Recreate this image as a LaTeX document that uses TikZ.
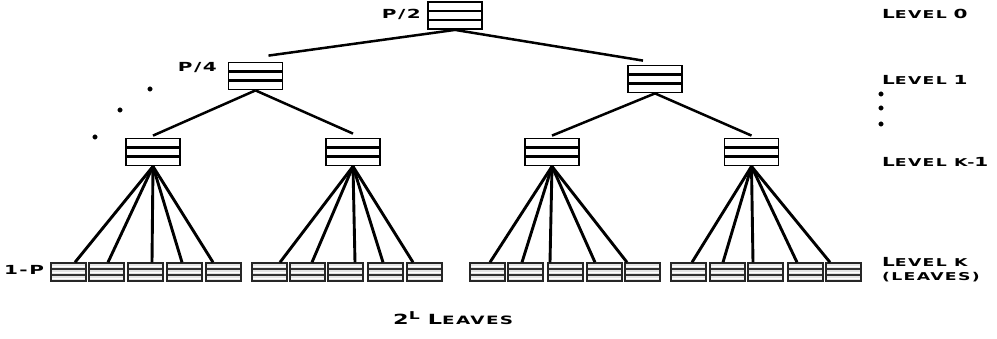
\documentclass[tikz,border=0pt]{standalone}
\usepackage{fontspec}
\newfontfamily\cpfont[FakeStretch=1.6,LetterSpace=12]{DejaVu Sans Bold}
\newcommand\bigc[1]{{\fontsize{12.5}{14}\selectfont #1}}
\newcommand\smc[1]{{\fontsize{10.8}{12}\selectfont #1}}
\tikzset{
  stack/.style={minimum width=54pt, minimum height=27pt, inner sep=0pt, draw=black, line width=1.8pt, fill=white,
    path picture={
      \draw[line width=2.6pt] ([yshift=-9pt]path picture bounding box.north west) -- ([yshift=-9pt]path picture bounding box.north east);
      \draw[line width=2.6pt] ([yshift=9pt]path picture bounding box.south west) -- ([yshift=9pt]path picture bounding box.south east);
    }},
  leaf/.style={minimum width=35pt, minimum height=18pt, inner sep=0pt, draw=black!85, line width=1.4pt, fill=black!10,
    path picture={
      \draw[line width=2pt, black!80] ([yshift=-6pt]path picture bounding box.north west) -- ([yshift=-6pt]path picture bounding box.north east);
      \draw[line width=2pt, black!80] ([yshift=6pt]path picture bounding box.south west) -- ([yshift=6pt]path picture bounding box.south east);
      \draw[line width=0.9pt, white] ([yshift=-3pt]path picture bounding box.north west) -- ([yshift=-3pt]path picture bounding box.north east);
      \draw[line width=0.9pt, white] ([yshift=9pt]path picture bounding box.south west) -- ([yshift=9pt]path picture bounding box.south east);
      \draw[line width=0.9pt, white] ([yshift=3pt]path picture bounding box.south west) -- ([yshift=3pt]path picture bounding box.south east);
    }},
  edge/.style={line width=2.5pt, black},
  ledge/.style={line width=2.9pt, black},
  lbl/.style={inner sep=0pt, font=\cpfont},
  dot/.style={circle, fill=black, draw=black, inner sep=0pt, minimum size=4.5pt}
}
\begin{document}
\begin{tikzpicture}[x=1pt,y=-1pt]
\useasboundingbox (0,0) rectangle (997,339);
% tree nodes
\node[stack] (t) at (455,15.5) {};
\node[stack] (l1a) at (255.5,76) {};
\node[stack] (l1b) at (655,79) {};
\node[stack] (k1) at (153,152) {};
\node[stack] (k2) at (353,152) {};
\node[stack] (k3) at (552,152) {};
\node[stack] (k4) at (751.5,152) {};
% leaves
\foreach \c [count=\i] in {68.5,106.5,145.5,184.5,223.5} {\node[leaf] (g1-\i) at (\c,272) {};}
\foreach \c [count=\i] in {269.5,307.5,345.5,385.5,424.5} {\node[leaf] (g2-\i) at (\c,272) {};}
\foreach \c [count=\i] in {487.5,525.5,565.5,604.5,642.5} {\node[leaf] (g3-\i) at (\c,272) {};}
\foreach \c [count=\i] in {688.5,727.5,765.5,805.5,843.5} {\node[leaf] (g4-\i) at (\c,272) {};}
% edges
\draw[edge] (t.south) -- ([xshift=13pt,yshift=6pt]l1a.north);
\draw[edge] (t.south) -- ([xshift=-12pt,yshift=4pt]l1b.north);
\draw[edge] (l1a.south) -- ([yshift=2pt]k1.north);
\draw[edge] (l1a.south) -- ([yshift=4pt]k2.north);
\draw[edge] (l1b.south) -- ([yshift=2pt]k3.north);
\draw[edge] (l1b.south) -- ([yshift=2pt]k4.north);
\foreach \s [count=\i] in {6.5,1.5,6.5,-2.5,-10.5} {\draw[ledge] (k1.south) -- ([xshift=\s pt]g1-\i.north);}
\foreach \s [count=\i] in {10.5,4.5,9.5,-2.5,-11.5} {\draw[ledge] (k2.south) -- ([xshift=\s pt]g2-\i.north);}
\foreach \s [count=\i] in {2.5,-3.5,-15.5,-9.5,-15.5} {\draw[ledge] (k3.south) -- ([xshift=\s pt]g3-\i.north);}
\foreach \s [count=\i] in {3.5,-4.5,-12.5,-8.5,-13.5} {\draw[ledge] (k4.south) -- ([xshift=\s pt]g4-\i.north);}
% dots
\node[dot] (d1) at (150,89) {};
\node[dot] (d2) at (120,110) {};
\node[dot] (d3) at (95,137) {};
\node[dot] (d4) at (881,94) {};
\node[dot] (d5) at (881,108) {};
\node[dot] (d6) at (881,124) {};
% labels
\node[lbl, anchor=east] (p2) at (421,14) {\bigc{P/2}};
\node[lbl, anchor=east] (p4) at (217,67.5) {\bigc{P/4}};
\node[lbl] (p1) at (24,270) {\bigc{1-P}};
\node[lbl, anchor=west] (lv0) at (882,14) {\bigc{L}\smc{EVEL} \bigc{0}};
\node[lbl, anchor=west] (lv1) at (882,80) {\bigc{L}\smc{EVEL} \bigc{1}};
\node[lbl, anchor=west] (lvk1) at (882,162) {\bigc{L}\smc{EVEL K-}\bigc{1}};
\node[lbl, anchor=west] (lvk) at (882,262) {\bigc{L}\smc{EVEL K}};
\node[lbl, anchor=west] (lvl) at (882,277) {\smc{(LEAVES)}};
\node[lbl, anchor=west] (two) at (393,318) {{\fontsize{14}{16}\selectfont 2}\raisebox{5pt}{\smc{L}}\hspace{8pt}{\fontsize{14}{16}\selectfont L}{\fontsize{11.5}{13}\selectfont EAVES}};
\end{tikzpicture}
\end{document}
